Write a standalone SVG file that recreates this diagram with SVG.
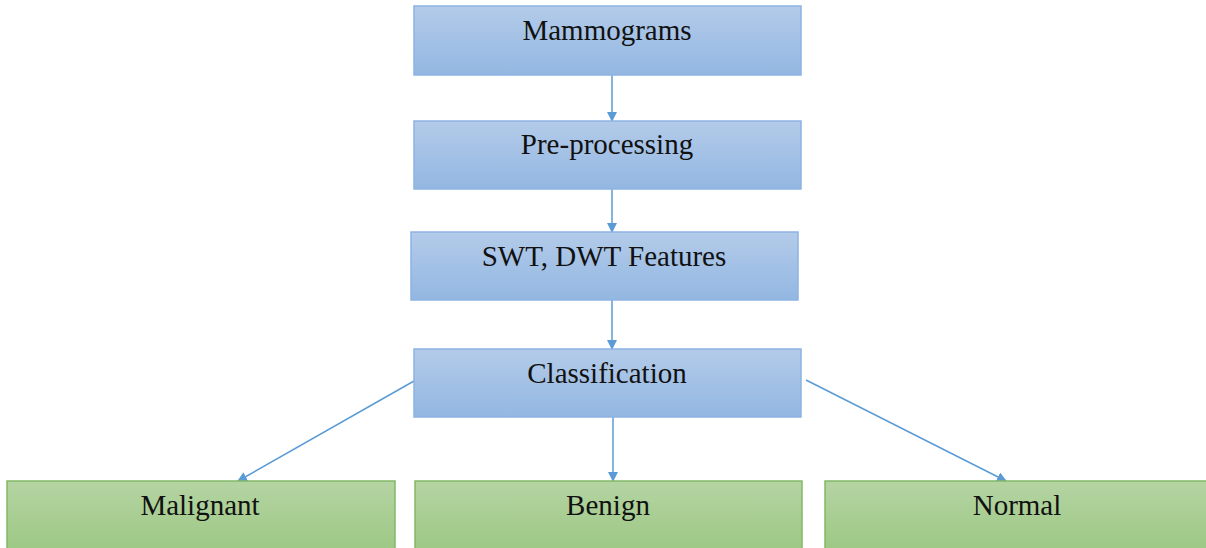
<svg xmlns="http://www.w3.org/2000/svg" width="1206" height="548" viewBox="0 0 1206 548">
<defs>
<linearGradient id="gb" x1="0" y1="0" x2="0" y2="1">
<stop offset="0" stop-color="#b3cbe9"/>
<stop offset="1" stop-color="#93b7e2"/>
</linearGradient>
<linearGradient id="gg" x1="0" y1="0" x2="0" y2="1">
<stop offset="0" stop-color="#b5d4a3"/>
<stop offset="1" stop-color="#99c67f"/>
</linearGradient>
<marker id="ah" markerWidth="10" markerHeight="10" refX="9" refY="5" orient="auto" markerUnits="userSpaceOnUse">
<path d="M0,0 L10,5 L0,10 Z" fill="#5b9bd5"/>
</marker>
<style>
.b{fill:url(#gb);stroke:#8db3e2;stroke-width:1.5}
.g{fill:url(#gg);stroke:#82b866;stroke-width:1.5}
.t{font-family:"Liberation Serif","Times New Roman",serif;font-size:29px;fill:#111;text-anchor:middle}
.c{stroke:#5b9bd5;stroke-width:1.5;fill:none;marker-end:url(#ah)}
</style>
</defs>
<g id="connectors">
<line class="c" x1="612" y1="75" x2="612" y2="121"/>
<line class="c" x1="612" y1="189" x2="612" y2="232"/>
<line class="c" x1="612" y1="300" x2="612" y2="349"/>
<line class="c" x1="613" y1="417" x2="613" y2="481"/>
<line class="c" x1="414" y1="381" x2="238" y2="481"/>
<line class="c" x1="806" y1="380" x2="1006" y2="481"/>
</g>
<g id="mammograms">
<rect class="b" x="414" y="6" width="387" height="69"/>
<text class="t" x="607" y="40">Mammograms</text>
</g>
<g id="preprocessing">
<rect class="b" x="414" y="121" width="387" height="68"/>
<text class="t" x="607" y="154">Pre-processing</text>
</g>
<g id="features">
<rect class="b" x="411" y="232" width="387" height="68"/>
<text class="t" x="604" y="266">SWT, DWT Features</text>
</g>
<g id="classification">
<rect class="b" x="414" y="349" width="387" height="68"/>
<text class="t" x="607" y="383">Classification</text>
</g>
<g id="malignant">
<rect class="g" x="7" y="481" width="388" height="80"/>
<text class="t" x="200" y="515">Malignant</text>
</g>
<g id="benign">
<rect class="g" x="415" y="481" width="387" height="80"/>
<text class="t" x="608" y="515">Benign</text>
</g>
<g id="normal">
<rect class="g" x="825" y="481" width="390" height="80"/>
<text class="t" x="1017" y="515">Normal</text>
</g>
</svg>
